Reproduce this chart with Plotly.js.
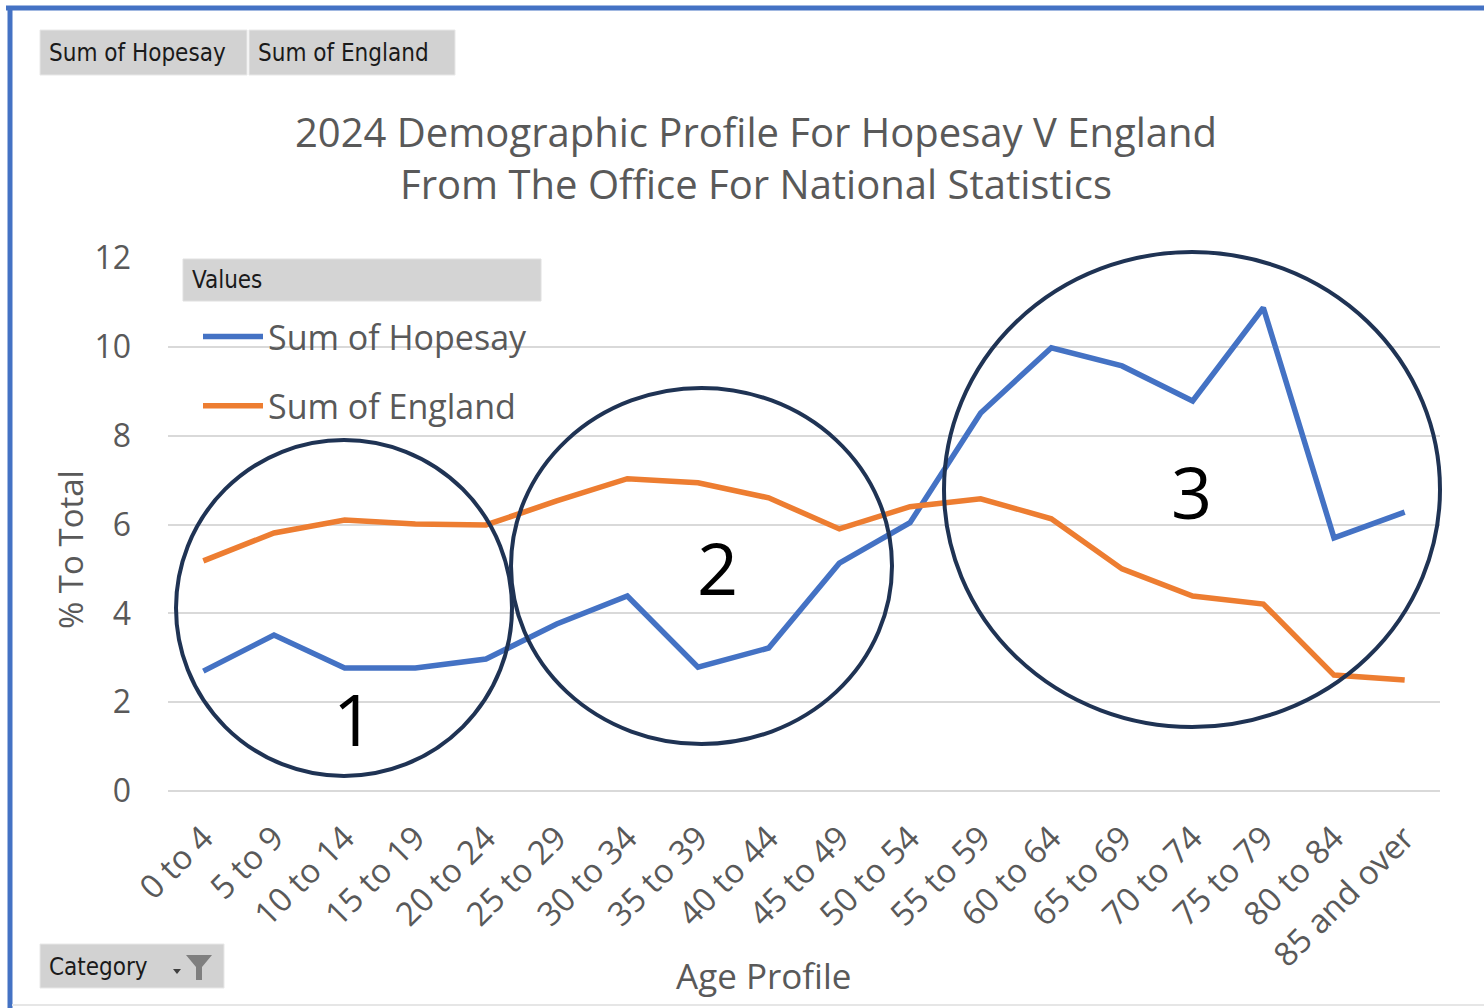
<!DOCTYPE html>
<html>
<head>
<meta charset="utf-8">
<script src="https://cdn.plot.ly/plotly-3.0.1.min.js"></script>
<style>
  html, body { margin: 0; padding: 0; background: #ffffff; }
  #chart { width: 1484px; height: 1008px; }
</style>
</head>
<body>
<div id="chart"></div>
<script>
// ---- data ----
const ageGroups = ["0 to 4", "5 to 9", "10 to 14", "15 to 19", "20 to 24", "25 to 29",
  "30 to 34", "35 to 39", "40 to 44", "45 to 49", "50 to 54", "55 to 59",
  "60 to 64", "65 to 69", "70 to 74", "75 to 79", "80 to 84", "85 and over"];
const hopesay = [2.70, 3.51, 2.77, 2.77, 2.97, 3.76, 4.39, 2.79, 3.22, 5.13,
  6.04, 8.51, 9.98, 9.57, 8.78, 10.88, 5.70, 6.28];
const england = [5.18, 5.81, 6.10, 6.01, 5.99, 6.53, 7.03, 6.94, 6.60, 5.90,
  6.40, 6.58, 6.13, 5.00, 4.39, 4.21, 2.61, 2.50];
const seriesNames = ["Sum of Hopesay", "Sum of England"];
const yTicks = [0, 2, 4, 6, 8, 10, 12];
const circleLabels = ["1", "2", "3"];

// ---- layout helpers (pixel -> paper) ----
const L = 168, R = 1440, T = 258, B = 791;
const W = 1484, H = 1008;
const px = v => (v - L) / (R - L);
const py = v => (B - v) / (B - T);

const FONT = "'Open Sans', 'Noto Sans', sans-serif";
const BTNFONT = "'Liberation Sans Narrow', 'DejaVu Sans Condensed', sans-serif";
const GREY = "#595959";

const traces = [
  {
    x: ageGroups, y: hopesay, name: seriesNames[0], type: "scatter", mode: "lines",
    line: { color: "#4472C4", width: 5.5, shape: "linear" }, legendgroup: "a",
    hoverinfo: "x+y+name"
  },
  {
    x: ageGroups, y: england, name: seriesNames[1], type: "scatter", mode: "lines",
    line: { color: "#ED7D31", width: 5.5, shape: "linear" }, legendgroup: "b",
    hoverinfo: "x+y+name"
  }
];

function rect(x0, y0, x1, y1, fill, lineColor, lw) {
  return { type: "rect", xref: "paper", yref: "paper", x0: px(x0), x1: px(x1), y0: py(y1), y1: py(y0),
    fillcolor: fill, line: { color: lineColor || "rgba(0,0,0,0)", width: lw || 0 }, layer: "above" };
}
function line(x0, y0, x1, y1, color, w) {
  return { type: "line", xref: "paper", yref: "paper", x0: px(x0), x1: px(x1), y0: py(y0), y1: py(y1),
    line: { color: color, width: w }, layer: "above" };
}
function circle(x0, y0, x1, y1) {
  return { type: "circle", xref: "paper", yref: "paper", x0: px(x0), x1: px(x1), y0: py(y1), y1: py(y0),
    line: { color: "#1F3354", width: 4 }, fillcolor: "rgba(0,0,0,0)", layer: "above" };
}

const shapes = [
  // outer blue frame (top + left) and bottom faint line
  line(6, 8, W, 8, "#4472C4", 5),
  line(10, 6, 10, H, "#4472C4", 5),
  line(12, 1005, W, 1005, "#e6e6e6", 2),
  // pivot field buttons
  rect(40, 30, 247, 75, "#d2d2d2", "#e8e8e8", 1),
  rect(249, 30, 455, 75, "#d2d2d2", "#e8e8e8", 1),
  rect(183, 259, 541, 301, "#d4d4d4", "#e0e0e0", 1),
  rect(40, 944, 224, 988, "#d2d2d2", "#e8e8e8", 1),
  // funnel icon on the Category button
  { type: "path", xref: "paper", yref: "paper",
    path: `M ${px(186)} ${py(955)} L ${px(212)} ${py(955)} L ${px(202)} ${py(967)} L ${px(202)} ${py(980)} L ${px(196)} ${py(980)} L ${px(196)} ${py(967)} Z`,
    fillcolor: "#7f7f7f", line: { width: 0 }, layer: "above" },
  { type: "path", xref: "paper", yref: "paper",
    path: `M ${px(173)} ${py(969)} L ${px(181)} ${py(969)} L ${px(177)} ${py(974)} Z`,
    fillcolor: "#404040", line: { width: 0 }, layer: "above" },
  // highlight circles
  circle(176, 440, 512, 776),
  circle(511, 388, 892, 744),
  circle(944, 252, 1440, 727)
];

const annotations = [
  { text: seriesNames[0], x: px(47), y: py(53), xanchor: "left", yanchor: "middle" },
  { text: seriesNames[1], x: px(256), y: py(53), xanchor: "left", yanchor: "middle" },
  { text: "Values", x: px(190), y: py(280), xanchor: "left", yanchor: "middle" },
  { text: "Category", x: px(47), y: py(967), xanchor: "left", yanchor: "middle" }
].map(a => Object.assign(a, { xref: "paper", yref: "paper", showarrow: false,
  font: { family: BTNFONT, size: 24, color: "#1a1a1a" } }));

const circlePos = [[353, 718], [717, 567], [1191, 491]];
circleLabels.forEach((t, i) => annotations.push({
  text: t, xref: "paper", yref: "paper", x: px(circlePos[i][0]), y: py(circlePos[i][1]),
  xanchor: "center", yanchor: "middle", showarrow: false,
  font: { family: FONT, size: 72, color: "#000000" }
}));

// axis titles placed as annotations to match reference positions
annotations.push({
  text: "% To Total", xref: "paper", yref: "paper", x: px(70), y: py(550),
  xanchor: "center", yanchor: "middle", textangle: -90, showarrow: false,
  font: { family: FONT, size: 33, color: GREY }
});
annotations.push({
  text: "Age Profile", xref: "paper", yref: "paper", x: px(763), y: py(975),
  xanchor: "center", yanchor: "middle", showarrow: false,
  font: { family: FONT, size: 35, color: GREY }
});

const layout = {
  width: W, height: H,
  margin: { l: L, r: W - R, t: T, b: H - B, pad: 0 },
  paper_bgcolor: "#ffffff", plot_bgcolor: "#ffffff",
  font: { family: FONT, color: GREY },
  title: {
    text: "2024 Demographic Profile For Hopesay V England<br>From The Office For National Statistics",
    font: { family: FONT, size: 40, color: GREY },
    x: 756 / W, xref: "container", xanchor: "center",
    y: 1 - 147 / H, yref: "container", yanchor: "middle"
  },
  xaxis: {
    type: "category", range: [-0.5, ageGroups.length - 0.5],
    tickangle: -45,
    tickfont: { family: FONT, size: 33, color: GREY },
    showgrid: false, zeroline: false, showline: false, ticks: "",
    ticklabelstandoff: 20,
    automargin: false, fixedrange: true
  },
  yaxis: {
    range: [0, 12], tickvals: yTicks, ticktext: yTicks.map(String),
    tickfont: { family: FONT, size: 32, color: GREY },
    showgrid: true, gridcolor: "#d9d9d9", gridwidth: 2,
    zeroline: true, zerolinecolor: "#d9d9d9", zerolinewidth: 2,
    showline: false, ticks: "", ticklabelstandoff: 36,
    automargin: false, fixedrange: true
  },
  showlegend: true,
  legend: {
    x: px(198), y: py(308), xanchor: "left", yanchor: "top",
    bgcolor: "rgba(0,0,0,0)", borderwidth: 0,
    font: { family: FONT, size: 34, color: GREY },
    traceorder: "grouped", tracegroupgap: 22, itemwidth: 60
  },
  shapes: shapes,
  annotations: annotations
};

Plotly.newPlot("chart", traces, layout, { displayModeBar: false, staticPlot: true });
</script>
</body>
</html>
